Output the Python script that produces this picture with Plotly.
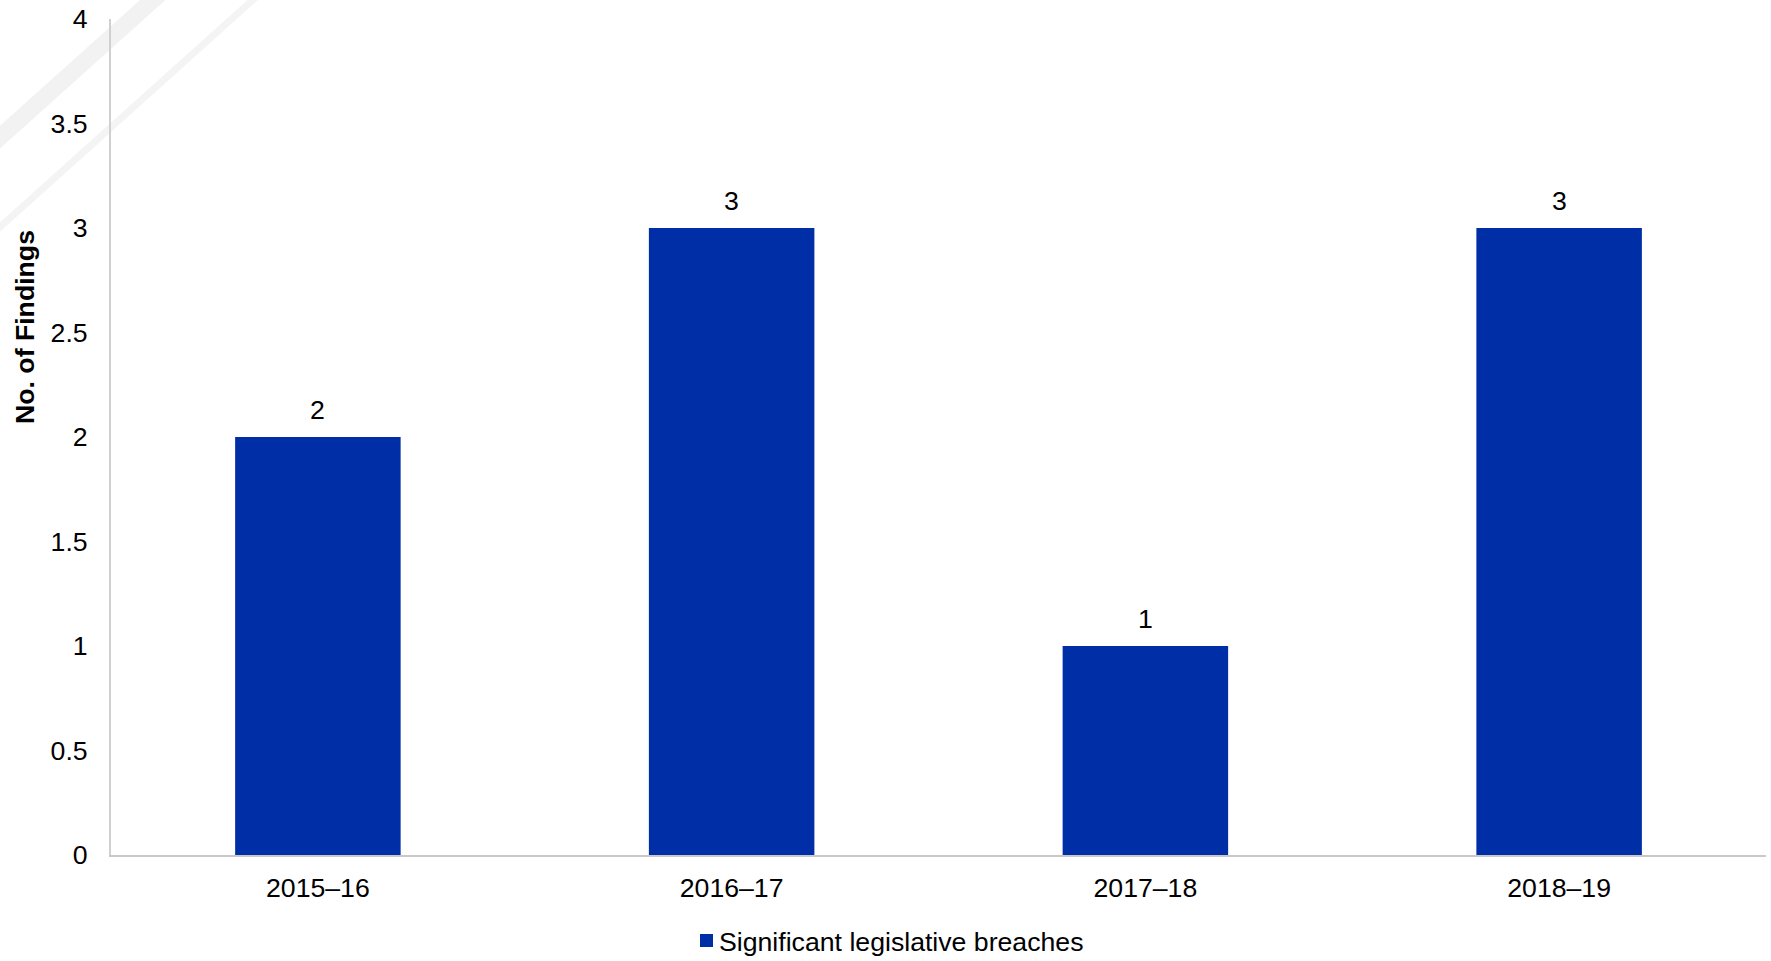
import plotly.graph_objects as go

# Findings per financial year
years = ["2015–16", "2016–17", "2017–18", "2018–19"]
findings = [2, 3, 1, 3]
series_name = "Significant legislative breaches"
y_ticks = [0, 0.5, 1, 1.5, 2, 2.5, 3, 3.5, 4]
y_tick_text = ["0", "0.5", "1", "1.5", "2", "2.5", "3", "3.5", "4"]

W, H = 1771, 961
M_L, M_R, M_T, M_B = 111, 5, 19, 106
PW = W - M_L - M_R
PH = H - M_T - M_B

BAR_COLOR = "#002EA7"
FONT = "Liberation Sans, Arial, sans-serif"
FS = 26.67  # 20pt


def px_to_paper(px, py):
    return (px - M_L) / PW, (H - M_B - py) / PH


fig = go.Figure()
fig.add_trace(go.Bar(
    x=years,
    y=findings,
    name=series_name,
    marker=dict(color=BAR_COLOR, line=dict(width=0)),
    showlegend=False,
))

# value labels above each bar
for yr, v in zip(years, findings):
    fig.add_annotation(
        x=yr, y=v, xref="x", yref="y",
        text=str(v), showarrow=False,
        yanchor="middle", yshift=27,
        font=dict(family=FONT, size=FS, color="#000000"),
    )

# rotated y-axis title
tx, ty = px_to_paper(25, 327)
fig.add_annotation(
    x=tx, y=ty, xref="paper", yref="paper",
    text="<b>No. of Findings</b>", showarrow=False,
    textangle=-90, xanchor="center", yanchor="middle",
    font=dict(family=FONT, size=FS, color="#000000"),
)

# legend: square swatch plus label, centred under the chart
sx0, sy0 = px_to_paper(700, 947)
sx1, sy1 = px_to_paper(713, 934)
fig.add_shape(
    type="rect", xref="paper", yref="paper",
    x0=sx0, y0=sy0, x1=sx1, y1=sy1,
    fillcolor=BAR_COLOR, line=dict(width=0),
)
lx, ly = px_to_paper(717, 942)
fig.add_annotation(
    x=lx, y=ly, xref="paper", yref="paper",
    text=series_name, showarrow=False,
    xanchor="left", yanchor="middle",
    font=dict(family=FONT, size=FS, color="#000000"),
)

# faint diagonal stripes in the top-left corner
stripes = [
    ((-20, 155), (175, -20), 17, "#f2f2f2"),
    ((-20, 245), (275, -20), 7, "#f4f4f4"),
]
for (x0, y0), (x1, y1), w, c in stripes:
    p0 = px_to_paper(x0, y0)
    p1 = px_to_paper(x1, y1)
    fig.add_shape(
        type="line", xref="paper", yref="paper",
        x0=p0[0], y0=p0[1], x1=p1[0], y1=p1[1],
        line=dict(color=c, width=w), layer="below",
    )

fig.update_layout(
    width=W, height=H,
    margin=dict(l=M_L, r=M_R, t=M_T, b=M_B, autoexpand=False),
    paper_bgcolor="white", plot_bgcolor="rgba(0,0,0,0)",
    bargap=0.6,
    showlegend=False,
    font=dict(family=FONT, size=FS, color="#000000"),
    xaxis=dict(
        showgrid=False, zeroline=False,
        showline=True, linecolor="#c8c8c8", linewidth=2,
        ticks="", ticklabelstandoff=8,
        tickfont=dict(family=FONT, size=FS, color="#000000"),
    ),
    yaxis=dict(
        range=[0, 4], showgrid=False, zeroline=False,
        showline=True, linecolor="#d0d0d0", linewidth=2,
        ticks="", tickmode="array", tickvals=y_ticks, ticktext=y_tick_text,
        ticklabelstandoff=16,
        tickfont=dict(family=FONT, size=FS, color="#000000"),
    ),
)

fig.write_html("out.html")
